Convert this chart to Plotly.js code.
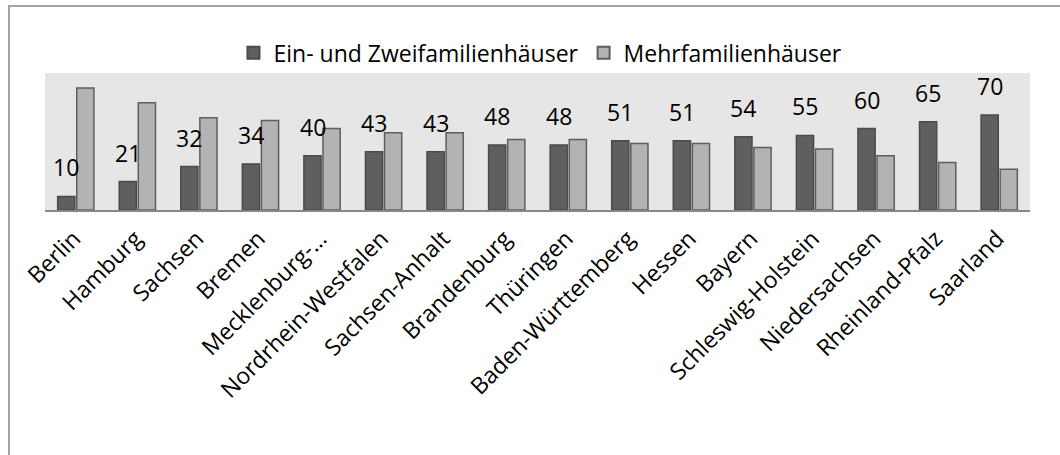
<!DOCTYPE html>
<html>
<head>
<meta charset="utf-8">
<script src="https://cdn.plot.ly/plotly-3.0.1.min.js"></script>
<style>
  html, body { margin: 0; padding: 0; background: #ffffff; }
  #wrap { position: relative; width: 1060px; height: 455px; }
  #chart { position: absolute; left: 0; top: 0; width: 1060px; height: 455px; }
  #frame { position: absolute; left: 8px; top: 5px; width: 1060px; height: 460px;
           border-left: 2px solid #a3a3a3; border-top: 2px solid #a3a3a3; pointer-events: none; }
</style>
</head>
<body>
<div id="wrap">
  <div id="chart"></div>
  <div id="frame"></div>
</div>
<script>
const categories = ["Berlin", "Hamburg", "Sachsen", "Bremen", "Mecklenburg-…", "Nordrhein-Westfalen",
  "Sachsen-Anhalt", "Brandenburg", "Thüringen", "Baden-Württemberg", "Hessen", "Bayern",
  "Schleswig-Holstein", "Niedersachsen", "Rheinland-Pfalz", "Saarland"];
const einZwei = [10, 21, 32, 34, 40, 43, 43, 48, 48, 51, 51, 54, 55, 60, 65, 70];
const mehr = [90, 79, 68, 66, 60, 57, 57, 52, 52, 49, 49, 46, 45, 40, 35, 30];
const seriesNames = ["Ein- und Zweifamilienhäuser", "Mehrfamilienhäuser"];

const FONT = "Open Sans, DejaVu Sans, sans-serif";

const traces = [
  {
    type: "bar", name: seriesNames[0], x: categories, y: einZwei,
    marker: { color: "#5f5f5f", line: { color: "#4a4a4a", width: 1.5 } },
    hoverinfo: "x+y"
  },
  {
    type: "bar", name: seriesNames[1], x: categories, y: mehr,
    marker: { color: "#b3b3b3", line: { color: "#5e5e5e", width: 1.5 } },
    hoverinfo: "x+y"
  }
];

const annotations = categories.map((c, i) => ({
  x: c, y: einZwei[i], xref: "x", yref: "y",
  text: String(einZwei[i]), showarrow: false,
  xanchor: "center", yanchor: "bottom",
  xshift: -9.5, yshift: 11,
  font: { family: FONT, size: 23, color: "#000000" }
}));

const layout = {
  width: 1060, height: 455,
  margin: { l: 45, r: 30, t: 73, b: 245, pad: 0 },
  paper_bgcolor: "rgba(0,0,0,0)",
  plot_bgcolor: "#e6e6e6",
  barmode: "group",
  bargap: 0.38,
  bargroupgap: 0.1,
  showlegend: true,
  legend: {
    orientation: "h", x: 0.503, xanchor: "center", y: 0.99, yanchor: "bottom",
    yref: "paper",
    font: { family: FONT, size: 23, color: "#000000" },
    itemsizing: "constant", traceorder: "normal",
    itemwidth: 30, tracegroupgap: 0
  },
  xaxis: {
    type: "category", tickangle: -45, automargin: false,
    showline: true, linecolor: "#878787", linewidth: 2,
    ticks: "outside", ticklen: 4, tickcolor: "rgba(0,0,0,0)", showgrid: false,
    ticklabelshift: -2,
    tickfont: { family: FONT, size: 23, color: "#000000" }
  },
  yaxis: {
    range: [0, 101], showticklabels: false, showgrid: false,
    zeroline: false, showline: false, ticks: "", automargin: false
  },
  annotations: annotations,
  font: { family: FONT }
};

Plotly.newPlot("chart", traces, layout, { displayModeBar: false, staticPlot: true });
</script>
</body>
</html>
